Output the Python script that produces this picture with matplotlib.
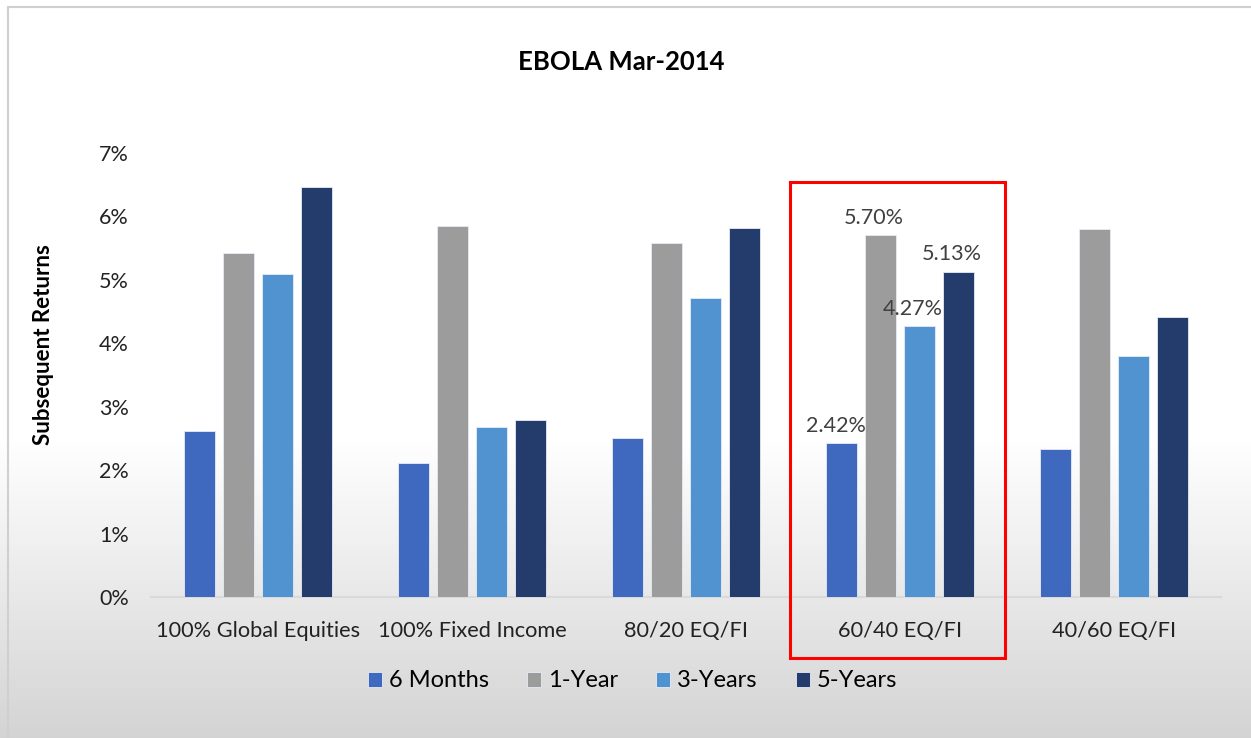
import matplotlib
matplotlib.use('agg')
import matplotlib.pyplot as plt
import numpy as np
from matplotlib.patches import Rectangle

plt.rcParams['font.family'] = ['Lato', 'DejaVu Sans']

categories = ['100% Global Equities', '100% Fixed Income', '80/20 EQ/FI', '60/40 EQ/FI', '40/60 EQ/FI']
series = ['6 Months', '1-Year', '3-Years', '5-Years']
six_months = [2.62, 2.11, 2.51, 2.42, 2.33]
one_year = [5.43, 5.85, 5.58, 5.70, 5.80]
three_years = [5.09, 2.68, 4.72, 4.27, 3.80]
five_years = [6.47, 2.79, 5.82, 5.13, 4.42]
colors = ['#3F68BF', '#9C9C9C', '#5192D0', '#233C6B']
labelled = 3  # 60/40 EQ/FI gets value labels

fig = plt.figure(figsize=(12.51, 7.38), dpi=100)

# background: white fading to light grey at the bottom
bg = fig.add_axes([0, 0, 1, 1], zorder=-10)
grad = np.ones((738, 1))
yy = np.arange(738)
grad[:, 0] = np.where(yy < 440, 1.0, 1.0 - (yy - 440) / (738 - 440) * 0.17)
bg.imshow(np.dstack([grad, grad, grad]), aspect='auto', extent=[0, 1, 0, 1], origin='upper')
bg.plot([0.006, 0.006], [0, 0.99], color='#cfcfcf', lw=1.5)
bg.plot([0.006, 1], [0.99, 0.99], color='#cfcfcf', lw=1.5)
bg.set_xlim(0, 1)
bg.set_ylim(0, 1)
bg.axis('off')

ax = fig.add_axes([0.1207, 0.1911, 0.8553, 0.6016])
ax.patch.set_alpha(0)

x = np.arange(len(categories))
width = 0.145
step = 0.181
data = [six_months, one_year, three_years, five_years]
for i, (name, vals) in enumerate(zip(series, data)):
    pos = x + (i - 1.5) * step
    ax.bar(pos, vals, width, color=colors[i], label=name, edgecolor='#e6ecf5', linewidth=0.6, zorder=3)
    ax.text(pos[labelled] - 0.03, vals[labelled] + 0.12, '%.2f%%' % vals[labelled],
            ha='center', va='bottom', fontsize=15.5, color='#404040', zorder=4)

ax.set_xlim(-0.5, 4.5)
ax.set_ylim(0, 7)
ax.set_yticks(range(0, 8))
ax.set_yticklabels(['%d%%' % v for v in range(0, 8)])
ax.set_xticks(x)
ax.set_xticklabels(categories)
ax.tick_params(axis='y', length=0, labelsize=15.5, pad=16, labelcolor='#222222')
ax.tick_params(axis='x', length=0, labelsize=15.7, pad=17, labelcolor='#222222')
for s in ['top', 'right', 'left']:
    ax.spines[s].set_visible(False)
ax.spines['bottom'].set_color('#d9d9d9')
ax.spines['bottom'].set_linewidth(1.5)

ax.set_ylabel('Subsequent Returns', fontsize=16, fontweight='bold')
ax.yaxis.set_label_coords(-0.091, 0.568)
fig.text(0.497, 0.916, 'EBOLA Mar-2014', ha='center', va='center', fontsize=18.5, fontweight='bold')

# red highlight box around 60/40
ax.add_patch(Rectangle((2.486, -0.96), 1.004, 7.51, fill=False, edgecolor='#ff0000',
                       linewidth=2.2, clip_on=False, zorder=5))

ax.legend(loc='center', bbox_to_anchor=(0.45, -0.189), ncol=4, frameon=False, fontsize=17,
          handlelength=0.6, handleheight=0.6, handletextpad=0.3, columnspacing=1.6)

fig.savefig('out.png', dpi=100)
